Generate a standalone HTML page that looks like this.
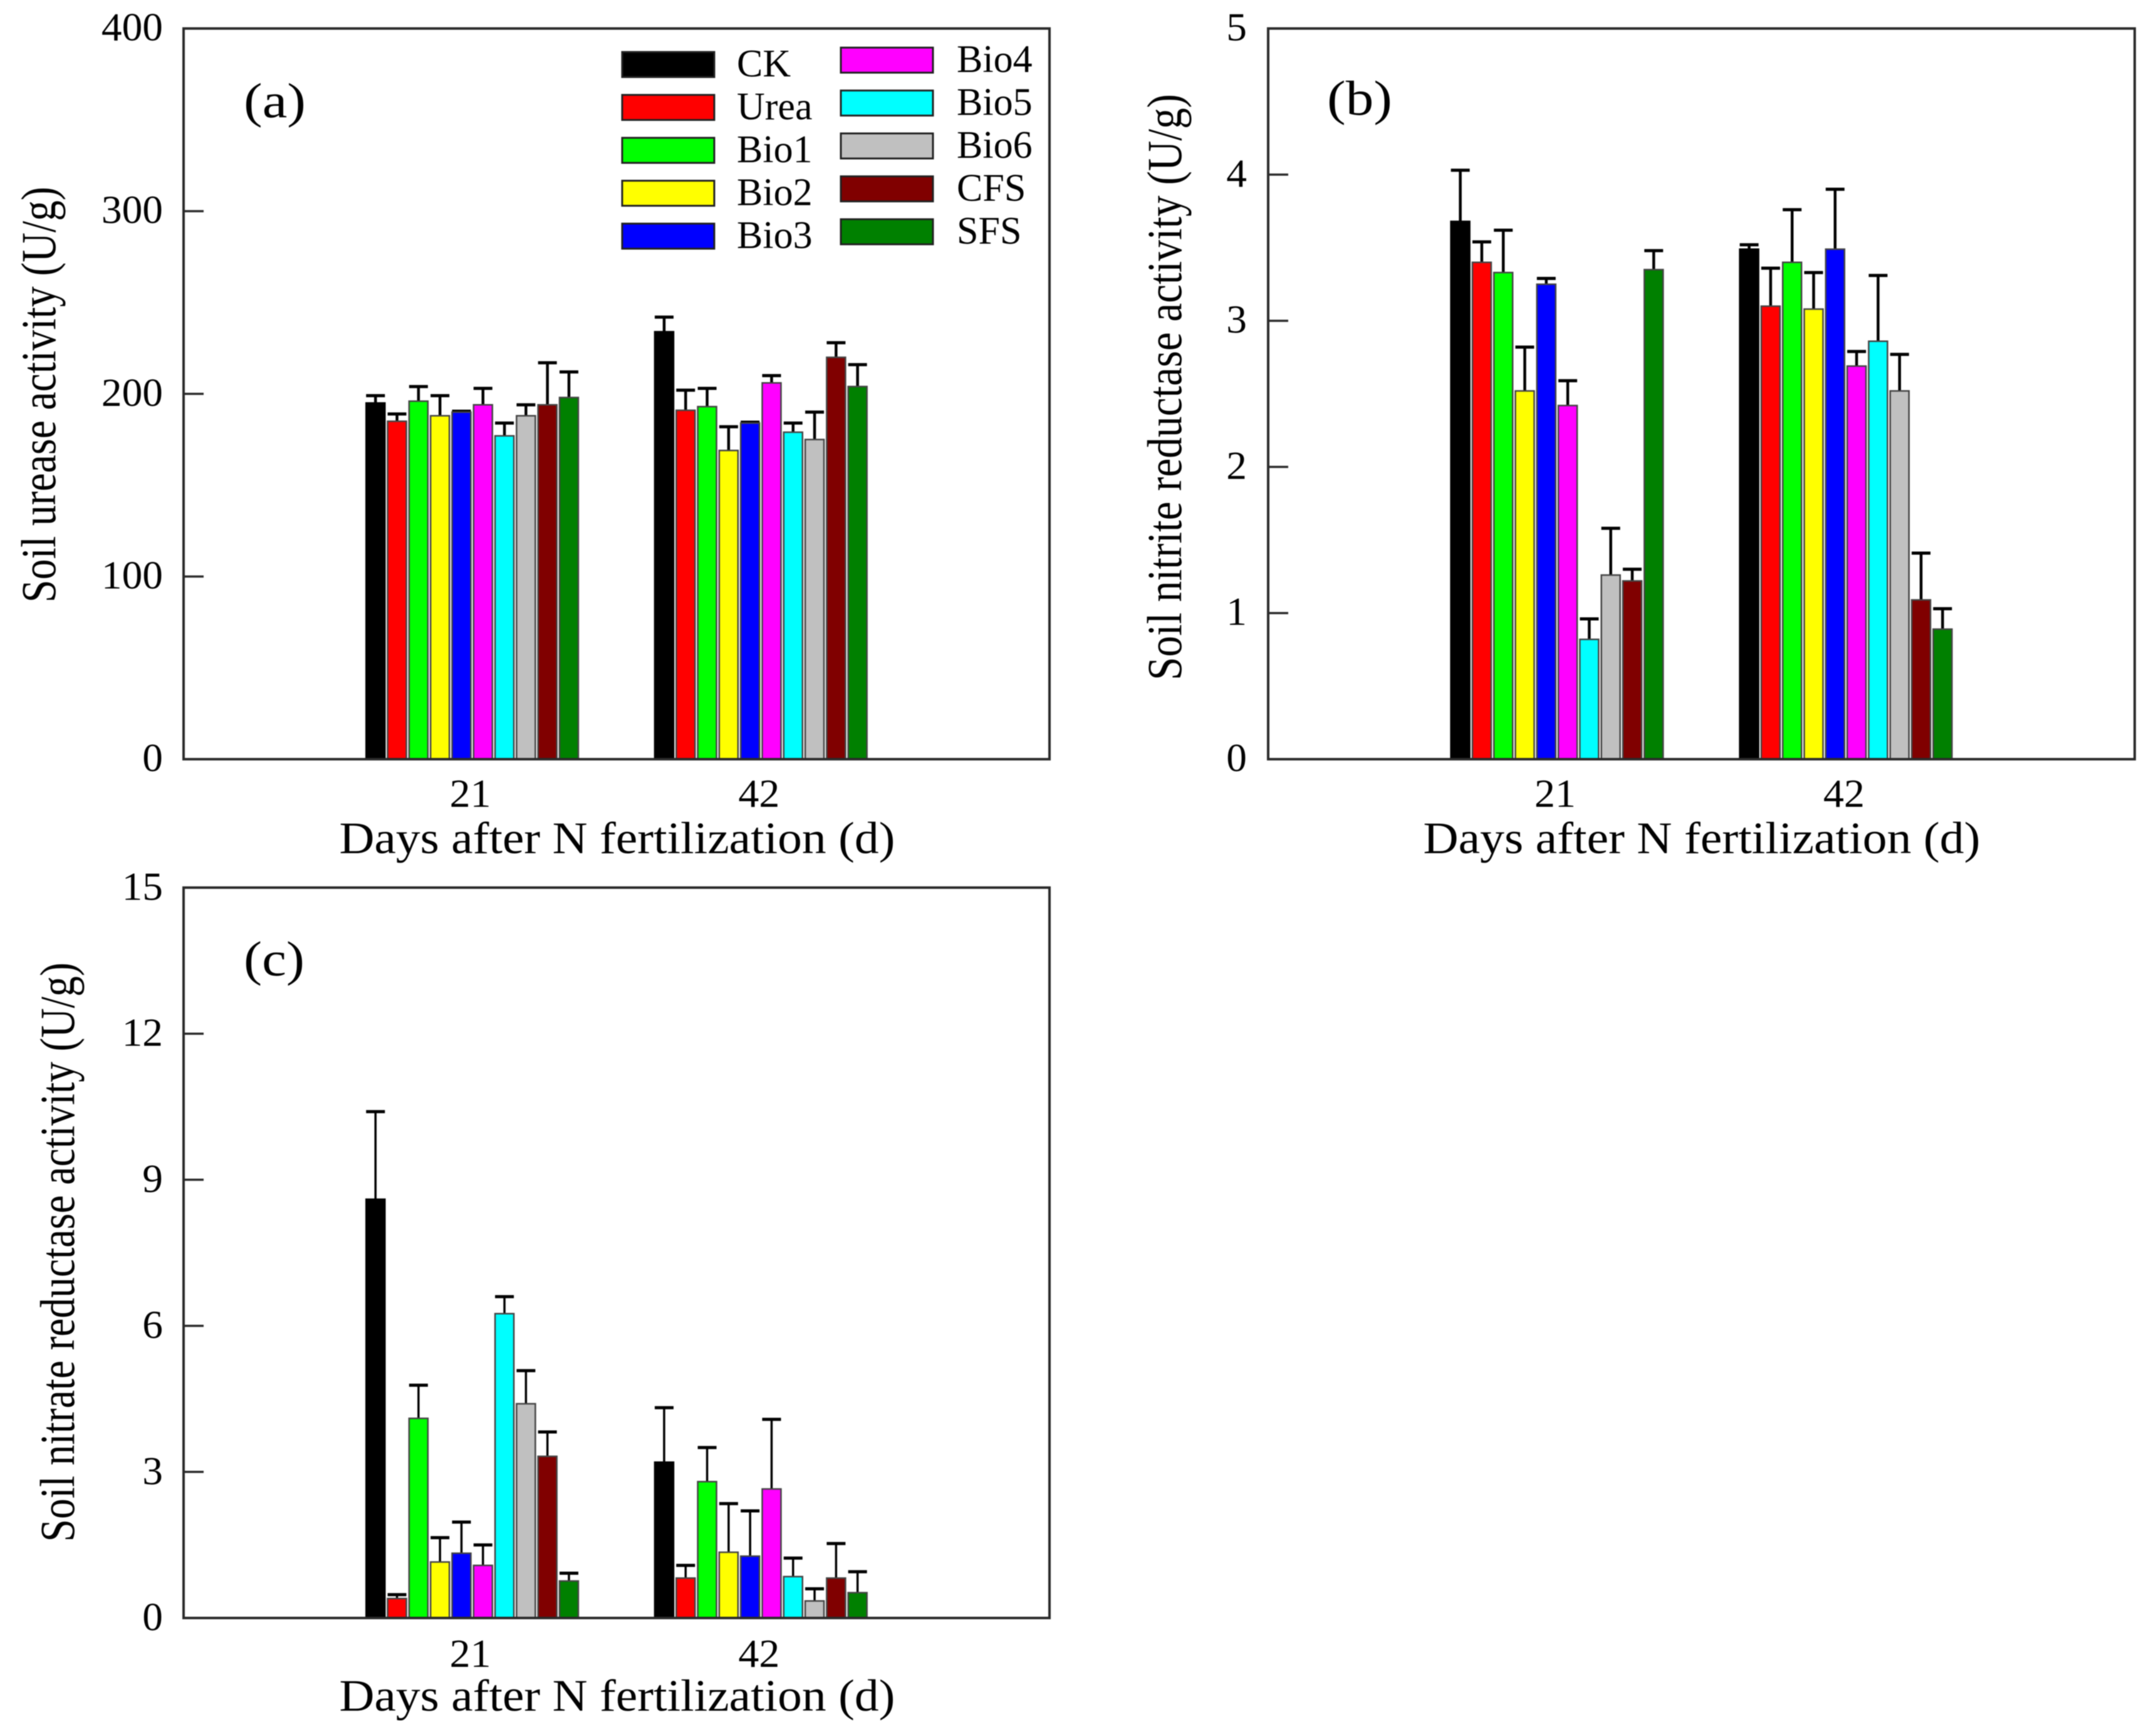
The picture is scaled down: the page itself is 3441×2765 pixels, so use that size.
<!DOCTYPE html>
<html lang="en">
<head>
<meta charset="utf-8">
<title>Soil enzyme activity charts</title>
<style>
html,body{margin:0;padding:0;background:#fff;width:3441px;height:2765px;overflow:hidden}
svg{display:block;filter:blur(0.8px)}
text{font-family:"Liberation Serif",serif;fill:#000}
.axis-title{font-size:72px}
.y-title{font-size:78px}
.panel-letter{font-size:78px}
.tick-label{font-size:63px}
.legend-label{font-size:62px}
</style>
</head>
<body>
<svg id="figure" xmlns="http://www.w3.org/2000/svg" width="3441" height="2765" viewBox="0 0 3441 2765">
  <rect x="0" y="0" width="3441" height="2765" fill="#fff"/>

  <text class="y-title" text-anchor="middle" transform="translate(88 630) rotate(-90)" textLength="664" lengthAdjust="spacingAndGlyphs">Soil urease activity (U/g)</text>
  <text class="axis-title" text-anchor="middle" x="985" y="1362" textLength="887" lengthAdjust="spacingAndGlyphs">Days after N fertilization (d)</text>
  <text class="panel-letter" x="389" y="187" textLength="99" lengthAdjust="spacingAndGlyphs">(a)</text>

  <text class="y-title" text-anchor="middle" transform="translate(1885 618) rotate(-90)" textLength="936" lengthAdjust="spacingAndGlyphs">Soil nitrite reductase activity (U/g)</text>
  <text class="axis-title" text-anchor="middle" x="2716" y="1362" textLength="889" lengthAdjust="spacingAndGlyphs">Days after N fertilization (d)</text>
  <text class="panel-letter" x="2118" y="183" textLength="104" lengthAdjust="spacingAndGlyphs">(b)</text>

  <text class="y-title" text-anchor="middle" transform="translate(118 1999) rotate(-90)" textLength="925" lengthAdjust="spacingAndGlyphs">Soil nitrate reductase activity (U/g)</text>
  <text class="axis-title" text-anchor="middle" x="985" y="2731" textLength="887" lengthAdjust="spacingAndGlyphs">Days after N fertilization (d)</text>
  <text class="panel-letter" x="389" y="1557" textLength="97" lengthAdjust="spacingAndGlyphs">(c)</text>
</svg>
<script>
var categories = ['21', '42'];
var seriesNames = ['CK', 'Urea', 'Bio1', 'Bio2', 'Bio3', 'Bio4', 'Bio5', 'Bio6', 'CFS', 'SFS'];
var seriesColors = ['#000000', '#ff0000', '#00ff00', '#ffff00', '#0000ff', '#ff00ff', '#00ffff', '#c0c0c0', '#800000', '#008000'];

var ureaseTicks = [0, 100, 200, 300, 400];
var urease21 = [195, 185, 196, 188, 190, 194, 177, 188, 194, 198];
var urease42 = [234, 191, 193, 169, 184, 206, 179, 175, 220, 204];
var ureaseErrTop21 = [199, 189, 204, 199, 190.5, 203, 184, 194, 217, 212];
var ureaseErrTop42 = [242, 202, 203, 182, 184.5, 210, 184, 190, 228, 216];

var nitriteTicks = [0, 1, 2, 3, 4, 5];
var nitrite21 = [3.68, 3.40, 3.33, 2.52, 3.25, 2.42, 0.82, 1.26, 1.22, 3.35];
var nitrite42 = [3.49, 3.10, 3.40, 3.08, 3.49, 2.69, 2.86, 2.52, 1.09, 0.89];
var nitriteErrTop21 = [4.03, 3.54, 3.62, 2.82, 3.29, 2.59, 0.96, 1.58, 1.30, 3.48];
var nitriteErrTop42 = [3.52, 3.36, 3.76, 3.33, 3.90, 2.79, 3.31, 2.77, 1.41, 1.03];

var nitrateTicks = [0, 3, 6, 9, 12, 15];
var nitrate21 = [8.6, 0.40, 4.10, 1.15, 1.33, 1.08, 6.25, 4.40, 3.32, 0.76];
var nitrate42 = [3.2, 0.82, 2.80, 1.35, 1.27, 2.65, 0.85, 0.35, 0.82, 0.52];
var nitrateErrTop21 = [10.4, 0.48, 4.78, 1.65, 1.97, 1.50, 6.60, 5.08, 3.82, 0.92];
var nitrateErrTop42 = [4.32, 1.08, 3.50, 2.35, 2.20, 4.08, 1.23, 0.60, 1.53, 0.95];

var NS = 'http://www.w3.org/2000/svg';
var figure = document.getElementById('figure');

function make(tag, attrs) {
  var node = document.createElementNS(NS, tag);
  for (var key in attrs) { node.setAttribute(key, attrs[key]); }
  figure.appendChild(node);
  return node;
}

function drawPanel(id, box, ticks, means, errTops, tickRight, baselineOffset, catBaseline, stemWidth) {
  var maxTick = ticks[ticks.length - 1];
  var width = box.right - box.left;
  var pitch = 34.3;
  var barW = 30;

  function yScale(v) { return box.bottom - (v / maxTick) * (box.bottom - box.top); }
  function xBand(k) { return box.left + width * (k + 1) / (categories.length + 1); }
  function xBar(k, i) { return xBand(k) + (i - (seriesNames.length - 1) / 2) * pitch; }

  categories.forEach(function (cat, k) {
    var label = make('text', {x: xBand(k) - 3, y: catBaseline, 'text-anchor': 'middle', 'class': 'tick-label', textLength: 66, lengthAdjust: 'spacingAndGlyphs'});
    label.textContent = cat;
    
    

    seriesNames.forEach(function (name, i) {
      var cx = xBar(k, i);
      var top = yScale(means[k][i]);
      var errY = yScale(errTops[k][i]);

      var stem = make('line', {x1: cx, x2: cx, y1: top, y2: errY, stroke: '#000', 'stroke-width': stemWidth});
      
      

      var cap = make('line', {x1: cx - barW / 2, x2: cx + barW / 2, y1: errY, y2: errY, stroke: '#000', 'stroke-width': 5});
      
      

      var bar = make('rect', {x: cx - barW / 2, y: top, width: barW, height: box.bottom - top, fill: seriesColors[i], stroke: i === 0 ? '#000' : '#444', 'stroke-width': 2.5});
      
      
    });
  });

  var frame = make('rect', {x: box.left, y: box.top, width: width, height: box.bottom - box.top, fill: 'none', stroke: '#2a2a2a', 'stroke-width': 4});
  
  

  ticks.forEach(function (t) {
    var y = yScale(t);
    if (t !== 0 && t !== maxTick) {
      var mark = make('line', {x1: box.left, x2: box.left + 32, y1: y, y2: y, stroke: '#2a2a2a', 'stroke-width': 3.5});
      
      
    }
    var text = String(t);
    var tickText = make('text', {x: tickRight, y: y + baselineOffset, 'text-anchor': 'end', 'class': 'tick-label', textLength: text.length * 32.7, lengthAdjust: 'spacingAndGlyphs'});
    tickText.textContent = text;
    
    
  });
}

drawPanel('panel-a', {left: 293, right: 1675, top: 45.5, bottom: 1212}, ureaseTicks,
  [urease21, urease42], [ureaseErrTop21, ureaseErrTop42], 260, 19, 1288, 4.5);
drawPanel('panel-b', {left: 2024, right: 3407, top: 45.5, bottom: 1212}, nitriteTicks,
  [nitrite21, nitrite42], [nitriteErrTop21, nitriteErrTop42], 1990, 19, 1288, 4.5);
drawPanel('panel-c', {left: 293, right: 1675, top: 1417, bottom: 2583}, nitrateTicks,
  [nitrate21, nitrate42], [nitrateErrTop21, nitrateErrTop42], 260, 19.5, 2661, 3.5);

seriesNames.forEach(function (name, i) {
  var col = i < 5 ? 0 : 1;
  var row = i < 5 ? i : i - 5;
  var swX = col === 0 ? 993 : 1342;
  var swY = (col === 0 ? 83 : 76) + row * 68.5;
  var labelX = col === 0 ? 1176 : 1527;

  var swatch = make('rect', {x: swX, y: swY, width: 147, height: 40, fill: seriesColors[i], stroke: '#222', 'stroke-width': 3});
  
  

  var label = make('text', {x: labelX, y: swY + 39, 'class': 'legend-label'});
  label.textContent = name;
  
  
});
</script>
</body>
</html>
